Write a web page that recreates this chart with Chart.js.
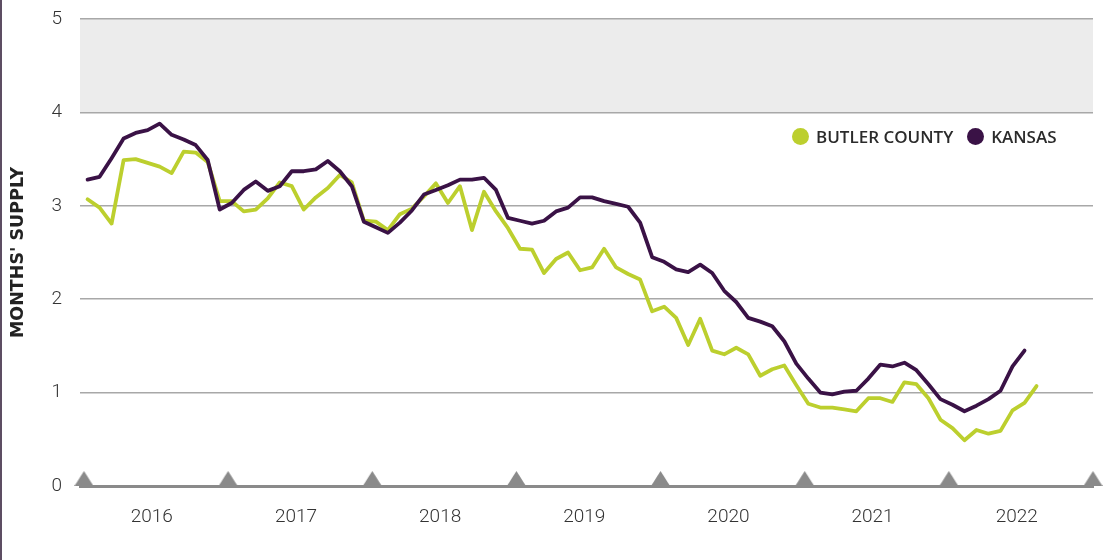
<!DOCTYPE html>
<html>
<head>
<meta charset="utf-8">
<script src="https://cdn.jsdelivr.net/npm/chart.js@4.4.1/dist/chart.umd.min.js"></script>
<style>
  html, body { margin: 0; padding: 0; background: #ffffff; }
  #wrap { position: relative; width: 1110px; height: 560px; overflow: hidden; }
  #edge { position: absolute; left: 0; top: 0; width: 2px; height: 560px; background: #5d4d63; }
  #legend { position: absolute; left: 792px; top: 126px; display: flex; align-items: center;
            font-family: "Open Sans", sans-serif; font-weight: 600; font-size: 17px; color: #2b2b2b;
            line-height: 21px; white-space: nowrap; }
  .dot { display: inline-block; width: 17px; height: 17px; border-radius: 50%; margin-right: 7px; }
  .item { display: flex; align-items: center; }
  .item + .item { margin-left: 14px; }
</style>
</head>
<body>
<div id="wrap">
  <canvas id="c" width="1110" height="560"></canvas>
  <div id="edge"></div>
  <div id="legend"></div>
</div>
<script>
// ---- data ----
const years = ['2016', '2017', '2018', '2019', '2020', '2021', '2022'];
const seriesNames = ['BUTLER COUNTY', 'KANSAS'];
const seriesColors = ['#bccf2e', '#3a1246'];
// Monthly months' supply, Jan 2016 onward
const butlerCounty = [
  3.07, 2.98, 2.81, 3.49, 3.50, 3.46, 3.42, 3.35, 3.58, 3.57, 3.47, 3.05,
  3.05, 2.94, 2.96, 3.08, 3.25, 3.21, 2.96, 3.09, 3.19, 3.33, 3.25, 2.84,
  2.83, 2.74, 2.91, 2.97, 3.10, 3.24, 3.03, 3.21, 2.74, 3.15, 2.94, 2.76,
  2.54, 2.53, 2.28, 2.43, 2.50, 2.31, 2.34, 2.54, 2.34, 2.27, 2.21, 1.87,
  1.92, 1.80, 1.51, 1.79, 1.45, 1.41, 1.48, 1.41, 1.18, 1.25, 1.29, 1.08,
  0.88, 0.84, 0.84, 0.82, 0.80, 0.94, 0.94, 0.90, 1.11, 1.09, 0.94, 0.71,
  0.62, 0.49, 0.60, 0.56, 0.59, 0.81, 0.89, 1.07
];
const kansas = [
  3.28, 3.31, 3.51, 3.72, 3.78, 3.81, 3.88, 3.76, 3.71, 3.65, 3.49, 2.96,
  3.03, 3.17, 3.26, 3.16, 3.21, 3.37, 3.37, 3.39, 3.48, 3.37, 3.21, 2.83,
  2.77, 2.71, 2.82, 2.95, 3.12, 3.17, 3.22, 3.28, 3.28, 3.30, 3.17, 2.87,
  2.84, 2.81, 2.84, 2.94, 2.98, 3.09, 3.09, 3.05, 3.02, 2.99, 2.82, 2.45,
  2.40, 2.32, 2.29, 2.37, 2.28, 2.09, 1.97, 1.80, 1.76, 1.71, 1.55, 1.31,
  1.15, 1.00, 0.98, 1.01, 1.02, 1.15, 1.30, 1.28, 1.32, 1.24, 1.09, 0.93,
  0.87, 0.80, 0.86, 0.93, 1.02, 1.28, 1.45
];
const yTicks = [0, 1, 2, 3, 4, 5];
const band = [4, 5];   // shaded range

// ---- helpers ----
const MONTHS = 12;
const toPoints = arr => arr.map((v, i) => ({ x: i, y: v }));
const boundaries = [];
for (let k = 0; k <= years.length; k++) boundaries.push({ x: k * MONTHS - 0.3, y: 0 });

// triangle marker image (triangle in upper half so its base sits on the axis)
const tri = document.createElement('canvas');
tri.width = 19; tri.height = 30;
(function () {
  const t = tri.getContext('2d');
  t.fillStyle = '#8a8a8a';
  t.beginPath();
  t.moveTo(9.5, 0);
  t.lineTo(19, 15);
  t.lineTo(0, 15);
  t.closePath();
  t.fill();
})();

// legend
const legend = document.getElementById('legend');
seriesNames.forEach((n, i) => {
  const it = document.createElement('span');
  it.className = 'item';
  const d = document.createElement('span');
  d.className = 'dot';
  d.style.background = seriesColors[i];
  it.appendChild(d);
  it.appendChild(document.createTextNode(n));
  legend.appendChild(it);
});

const bandPlugin = {
  id: 'band',
  beforeDraw(chart) {
    const { ctx, chartArea, scales } = chart;
    const yTop = scales.y.getPixelForValue(band[1]);
    const yBot = scales.y.getPixelForValue(band[0]);
    ctx.save();
    ctx.fillStyle = '#ececec';
    ctx.fillRect(chartArea.left, yTop, chartArea.right - chartArea.left, yBot - yTop);
    ctx.restore();
  }
};

const lineStyle = {
  borderWidth: 3.8,
  pointRadius: 0,
  pointHoverRadius: 0,
  tension: 0,
  fill: false,
  borderCapStyle: 'round',
  borderJoinStyle: 'round'
};

new Chart(document.getElementById('c'), {
  type: 'line',
  data: {
    datasets: [
      Object.assign({ label: seriesNames[0], data: toPoints(butlerCounty), borderColor: seriesColors[0], order: 2 }, lineStyle),
      Object.assign({ label: seriesNames[1], data: toPoints(kansas), borderColor: seriesColors[1], order: 1 }, lineStyle),
      { label: 'years', data: boundaries, showLine: false, pointStyle: tri, pointRadius: 10,
        pointHoverRadius: 10, clip: false, order: 0 }
    ]
  },
  plugins: [bandPlugin],
  options: {
    responsive: false,
    animation: false,
    events: [],
    layout: { padding: { top: 19, right: 17, bottom: 0, left: 0 } },
    plugins: { legend: { display: false }, tooltip: { enabled: false } },
    scales: {
      x: {
        type: 'linear',
        min: -0.63,
        max: 83.7,
        grid: { display: false, drawTicks: false },
        border: { display: true, color: '#8a8a8a', width: 3 },
        afterBuildTicks: s => { s.ticks = years.map((y, k) => ({ value: k * MONTHS + 5.35 })); },
        afterFit: s => { s.height = 74; s.paddingLeft = 0; s.paddingRight = 0; },
        ticks: {
          autoSkip: false, maxRotation: 0, minRotation: 0, padding: 20,
          color: '#333333',
          font: { family: 'Roboto', weight: '300', size: 19 },
          callback: (v, i) => years[i]
        }
      },
      y: {
        min: 0,
        max: 5,
        afterBuildTicks: s => { s.ticks = yTicks.map(v => ({ value: v })); },
        afterFit: s => { s.width = 80; s.paddingTop = 0; s.paddingBottom = 0; },
        border: { display: false },
        grid: {
          drawTicks: false,
          lineWidth: 1.5,
          color: c => (c.tick && c.tick.value === 0) ? 'rgba(0,0,0,0)' : '#a8a8a8'
        },
        ticks: {
          padding: 18,
          color: '#333333',
          font: { family: 'Roboto', weight: '300', size: 19 }
        },
        title: {
          display: true,
          text: "MONTHS' SUPPLY",
          color: '#222222',
          padding: { top: 8, bottom: 0 },
          font: { family: '"DejaVu Sans", sans-serif', weight: 'bold', size: 17.5 }
        }
      }
    }
  }
});
</script>
</body>
</html>
